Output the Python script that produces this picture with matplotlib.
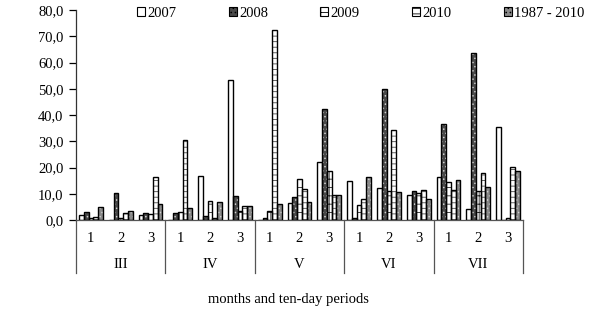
import matplotlib
matplotlib.use("Agg")
import matplotlib.pyplot as plt
import matplotlib.transforms as mtrans
from matplotlib.lines import Line2D
from matplotlib.patches import Patch
from matplotlib.ticker import FuncFormatter, MultipleLocator
import numpy as np

plt.rcParams['font.family'] = ['Liberation Serif', 'DejaVu Serif']
plt.rcParams['hatch.linewidth'] = 0.6

months = ["III", "IV", "V", "VI", "VII"]
decades = ["1", "2", "3"]
series_names = ["2007", "2008", "2009", "2010", "1987 - 2010"]

v2007 = [2.0, 0.0, 1.9, 0.0, 16.9, 53.3, 0.0, 6.3, 22.0, 14.8, 12.2, 9.5, 16.5, 4.2, 35.5]
v2008 = [3.2, 10.4, 2.8, 2.5, 1.5, 9.2, 0.6, 8.9, 42.3, 0.6, 49.8, 11.0, 36.6, 63.7, 0.0]
v2009 = [0.6, 0.6, 2.3, 3.2, 7.3, 3.4, 3.6, 15.5, 18.7, 5.7, 11.0, 10.2, 14.5, 11.2, 0.9]
v2010 = [1.0, 2.5, 16.4, 30.3, 0.8, 5.3, 72.5, 11.8, 9.6, 7.9, 34.3, 11.6, 11.6, 18.0, 20.1]
vavg = [5.1, 3.3, 6.2, 4.7, 7.0, 5.5, 6.1, 7.0, 9.4, 16.3, 10.7, 8.0, 15.2, 12.4, 18.7]

series = [v2007, v2008, v2009, v2010, vavg]
faces = ["white", "#4a4a4a", "white", "white", "#8a8a8a"]
hatch_cols = ["#bbbbbb", "#cfcfcf", "#222222", "#444444", "#d0d0d0"]
hatches = [None, "....", "++", "---", "...."]

W, H = 593, 312
fig = plt.figure(figsize=(W / 100, H / 100), dpi=100)
ax_l, ax_r, ax_t, ax_b = 76, 523, 10, 220
ax = fig.add_axes([ax_l / W, 1 - ax_b / H, (ax_r - ax_l) / W, (ax_b - ax_t) / H])

n = len(v2007)
x = np.arange(n)
bw = 0.161
for k, vals in enumerate(series):
    off = (k - 2) * bw
    ax.bar(x + off, vals, width=bw, color=faces[k], edgecolor=hatch_cols[k],
           hatch=hatches[k], linewidth=0, zorder=2)
    ax.bar(x + off, vals, width=bw, fill=False, edgecolor="black",
           linewidth=1.0, zorder=3)

ax.set_xlim(-0.5, n - 0.5)
ax.set_ylim(0, 80)
ax.yaxis.set_major_locator(MultipleLocator(10))
ax.yaxis.set_major_formatter(FuncFormatter(lambda v, p: f"{v:.1f}".replace(".", ",")))
ax.tick_params(axis='y', direction='out', length=5, width=0.9, labelsize=10.5, pad=4,
               colors='black')
ax.set_xticks([])
for s in ["top", "right"]:
    ax.spines[s].set_visible(False)
ax.spines["left"].set_linewidth(0.9)
ax.spines["bottom"].set_linewidth(0.9)
ax.spines["left"].set_color("#333333")
ax.spines["bottom"].set_color("#555555")

# lower category frame
tr = mtrans.blended_transform_factory(ax.transData, fig.transFigure)
y_top = 1 - ax_b / H
y_bot = 1 - 273 / H
for m in range(len(months) + 1):
    xs = -0.5 + 3 * m
    ax.add_line(Line2D([xs, xs], [y_bot, y_top], transform=tr, color="#555555",
                       linewidth=0.9, clip_on=False))

for i in range(n):
    ax.text(i, 1 - 238 / H, decades[i % 3], transform=tr, ha="center", va="center",
            fontsize=10.5)
for m, name in enumerate(months):
    ax.text(3 * m + 1, 1 - 265 / H, name, transform=tr, ha="center", va="center",
            fontsize=10.5)

fig.text(288 / W, 1 - 300 / H, "months and ten-day periods", ha="center", va="center",
         fontsize=10.5)

handles = [Patch(facecolor=faces[k], edgecolor="black", hatch=hatches[k], linewidth=0.8)
           for k in range(5)]
fig.legend(handles, series_names, loc="upper left",
           bbox_to_anchor=(137 / W, 1 - 7 / H), ncol=5, frameon=False,
           fontsize=10.5, handlelength=0.55, handleheight=0.55, handletextpad=0.15,
           columnspacing=3.6, borderpad=0, borderaxespad=0)

fig.savefig("out.png", dpi=100)
